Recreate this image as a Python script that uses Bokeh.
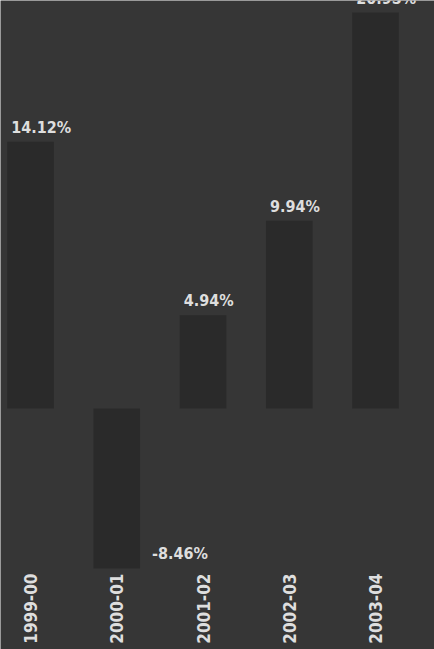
import math
from bokeh.plotting import figure
from bokeh.models import ColumnDataSource, Range1d
from bokeh.core.properties import value
from bokeh.embed import file_html
from bokeh.resources import INLINE

# Annual growth by financial year
years = ["1999-00", "2000-01", "2001-02", "2002-03", "2003-04"]
growth = [14.12, -8.46, 4.94, 9.94, 20.95]
growth_labels = ["14.12%", "-8.46%", "4.94%", "9.94%", "20.95%"]

BG = "#363636"
BAR = "#2a2a2a"
TXT = "#dedede"
FONT = "DejaVu Sans Condensed"
BAR_W = 0.54

idx = list(range(len(years)))
src = ColumnDataSource(dict(
    x=idx,
    top=[max(v, 0) for v in growth],
    bottom=[min(v, 0) for v in growth],
    year=years,
))

p = figure(width=434, height=649, output_backend="svg", toolbar_location=None,
           x_range=Range1d(-0.348, 4.684), y_range=Range1d(-12.75, 21.59),
           min_border=0, min_border_left=0, min_border_right=0,
           min_border_top=0, min_border_bottom=0)
p.axis.visible = False
p.grid.visible = False
p.outline_line_color = None
p.background_fill_color = BG
p.border_fill_color = BG

p.vbar(x="x", top="top", bottom="bottom", width=BAR_W, source=src,
       fill_color=BAR, line_color=None)

# value labels: above positive bars, beside the negative one
pos = [i for i, v in enumerate(growth) if v >= 0]
neg = [i for i, v in enumerate(growth) if v < 0]
p.text(x=[i - BAR_W / 2 for i in pos], y=[growth[i] for i in pos],
       text=[growth_labels[i] for i in pos], x_offset=4, y_offset=-5,
       text_align="left", text_baseline="bottom", text_color=TXT,
       text_font=value(FONT), text_font_style="bold", text_font_size="16px")
p.text(x=[i + BAR_W / 2 for i in neg], y=[growth[i] for i in neg],
       text=[growth_labels[i] for i in neg], x_offset=12, y_offset=-15,
       text_align="left", text_baseline="middle", text_color=TXT,
       text_font=value(FONT), text_font_style="bold", text_font_size="16px")

# vertical category labels under the bars
p.text(x="x", y=0, text="year", source=src, angle=math.pi / 2,
       y_offset=165, text_align="right", text_baseline="middle",
       text_color=TXT, text_font=value(FONT), text_font_style="bold",
       text_font_size="17px")

open("out.html", "w").write(file_html(p, INLINE))
